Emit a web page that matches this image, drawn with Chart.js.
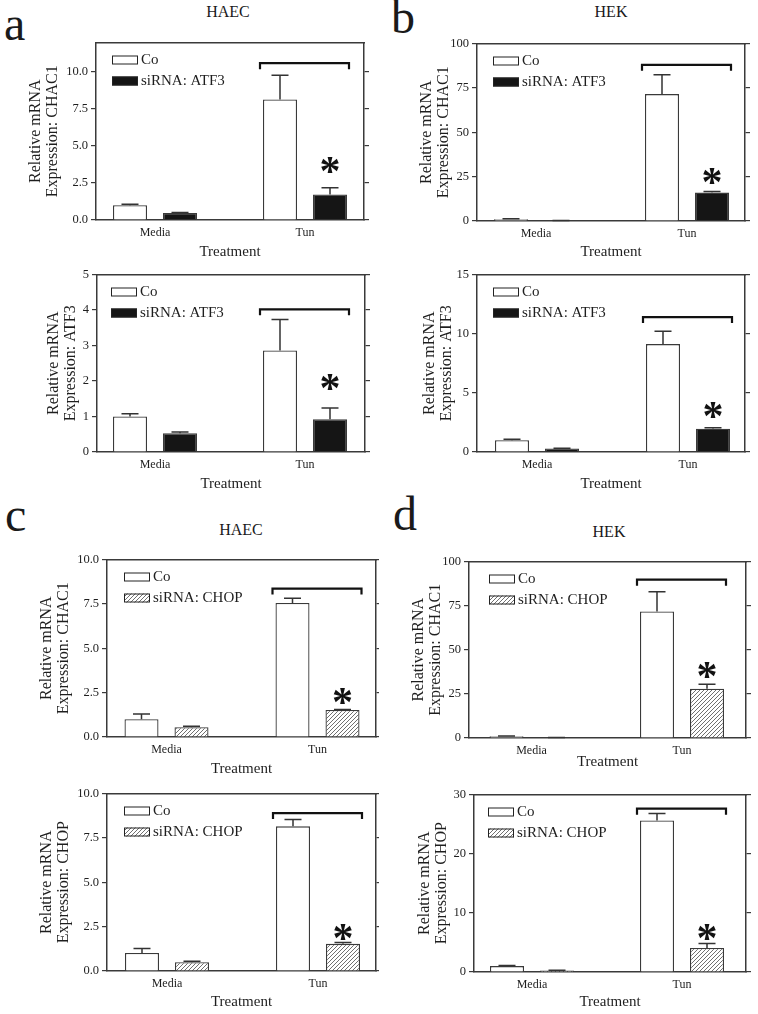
<!DOCTYPE html>
<html><head><meta charset="utf-8">
<script src="https://cdn.jsdelivr.net/npm/chart.js@4.4.1/dist/chart.umd.min.js"></script>
<style>
html,body{margin:0;padding:0;background:#fff;}
body{width:758px;height:1014px;position:relative;overflow:hidden;font-family:"Liberation Serif","Times New Roman",serif;color:#1a1a1a;}
canvas{position:absolute;}
.lbl{position:absolute;line-height:1;white-space:nowrap;}
.letter{font-size:48px;}
.ttl{font-size:16px;transform:translateX(-50%);}
</style></head><body>
<div class="lbl letter" style="left:4px;top:0px">a</div>
<div class="lbl ttl" style="left:228px;top:4px">HAEC</div>
<div class="lbl letter" style="left:391px;top:-7px">b</div>
<div class="lbl ttl" style="left:611px;top:4px">HEK</div>
<div class="lbl letter" style="left:5px;top:491px">c</div>
<div class="lbl ttl" style="left:241px;top:522px">HAEC</div>
<div class="lbl letter" style="left:393px;top:490px">d</div>
<div class="lbl ttl" style="left:609px;top:524px">HEK</div>
<script>
// ---------- data ----------
const categories = ['Media', 'Tun'];
const namesATF3 = ['Co', 'siRNA: ATF3'];
const namesCHOP = ['Co', 'siRNA: CHOP'];
const xTitle = 'Treatment';
const yTitleCHAC1 = ['Relative mRNA', 'Expression: CHAC1'];
const yTitleATF3 = ['Relative mRNA', 'Expression: ATF3'];
const yTitleCHOP = ['Relative mRNA', 'Expression: CHOP'];
const starMark = '*';

// a (top): HAEC, CHAC1
const a1Co = [1.0, 8.15];   const a1CoErr = [0.07, 1.63];
const a1Si = [0.47, 1.72];  const a1SiErr = [0.04, 0.46];
const a1Ticks = [0, 2.5, 5, 7.5, 10]; const a1TickLabels = ['0.0', '2.5', '5.0', '7.5', '10.0'];
const a1Max = 12; const a1Bracket = 10.6; const a1Star = 3.6;

// a (bottom): HAEC, ATF3
const a2Co = [1.0, 2.86];   const a2CoErr = [0.08, 0.87];
const a2Si = [0.53, 0.92];  const a2SiErr = [0.03, 0.32];
const a2Ticks = [0, 1, 2, 3, 4, 5]; const a2TickLabels = ['0', '1', '2', '3', '4', '5'];
const a2Max = 5; const a2Bracket = 4.02; const a2Star = 1.9;

// b (top): HEK, CHAC1
const b1Co = [1.0, 71.5];   const b1CoErr = [0.2, 10.9];
const b1Si = [0.25, 16.0];  const b1SiErr = [0.05, 0.6];
const b1Ticks = [0, 25, 50, 75, 100]; const b1TickLabels = ['0', '25', '50', '75', '100'];
const b1Max = 100; const b1Bracket = 88; const b1Star = 24;

// b (bottom): HEK, ATF3
const b2Co = [1.0, 9.12];   const b2CoErr = [0.08, 1.08];
const b2Si = [0.3, 1.96];   const b2SiErr = [0.02, 0.08];
const b2Ticks = [0, 5, 10, 15]; const b2TickLabels = ['0', '5', '10', '15'];
const b2Max = 15; const b2Bracket = 11.4; const b2Star = 3.4;

// c (top): HAEC, CHAC1, siRNA CHOP
const c1Co = [1.0, 7.55];   const c1CoErr = [0.3, 0.26];
const c1Si = [0.55, 1.52];  const c1SiErr = [0.05, 0.03];
const c1Ticks = [0, 2.5, 5, 7.5, 10]; const c1TickLabels = ['0.0', '2.5', '5.0', '7.5', '10.0'];
const c1Max = 10; const c1Bracket = 8.36; const c1Star = 2.2;

// c (bottom): HAEC, CHOP
const c2Co = [1.01, 8.15];  const c2CoErr = [0.26, 0.39];
const c2Si = [0.49, 1.53];  const c2SiErr = [0.06, 0.07];
const c2Ticks = [0, 2.5, 5, 7.5, 10]; const c2TickLabels = ['0.0', '2.5', '5.0', '7.5', '10.0'];
const c2Max = 10; const c2Bracket = 8.9; const c2Star = 2.1;

// d (top): HEK, CHAC1, siRNA CHOP
const d1Co = [1.0, 71.7];   const d1CoErr = [0.2, 11.1];
const d1Si = [0.3, 27.9];   const d1SiErr = [0.05, 2.5];
const d1Ticks = [0, 25, 50, 75, 100]; const d1TickLabels = ['0', '25', '50', '75', '100'];
const d1Max = 100; const d1Bracket = 89.7; const d1Star = 37.5;

// d (bottom): HEK, CHOP
const d2Co = [1.0, 25.6];   const d2CoErr = [0.1, 1.2];
const d2Si = [0.25, 4.06];  const d2SiErr = [0.03, 0.74];
const d2Ticks = [0, 10, 20, 30]; const d2TickLabels = ['0', '10', '20', '30'];
const d2Max = 30; const d2Bracket = 27.6; const d2Star = 6.4;

// ---------- layout (pixel geometry of each plot box) ----------
const layA1 = {col: 0, L: 96,  R: 364, T: 42,  B: 220, mediaC: 155,   tunC: 305,   titleX: 36,  treatY: 252,  legX: 16};
const layA2 = {col: 0, L: 97,  R: 365, T: 274, B: 452, mediaC: 155,   tunC: 305,   titleX: 54,  treatY: 484,  legX: 14};
const layB1 = {col: 1, L: 477, R: 745, T: 43,  B: 221, mediaC: 536,   tunC: 687,   titleX: 427, treatY: 252,  legX: 16};
const layB2 = {col: 1, L: 477, R: 745, T: 274, B: 452, mediaC: 537,   tunC: 688,   titleX: 430, treatY: 484,  legX: 16};
const layC1 = {col: 0, L: 107, R: 376, T: 559, B: 737, mediaC: 166.5, tunC: 317.5, titleX: 47,  treatY: 769,  legX: 17};
const layC2 = {col: 0, L: 107, R: 376, T: 793, B: 971, mediaC: 167,   tunC: 318,   titleX: 47,  treatY: 1002, legX: 17};
const layD1 = {col: 1, L: 469, R: 746, T: 561, B: 738, mediaC: 531.5, tunC: 682,   titleX: 419, treatY: 762,  legX: 20};
const layD2 = {col: 1, L: 474, R: 746, T: 794, B: 972, mediaC: 532,   tunC: 682,   titleX: 425, treatY: 1002, legX: 14};

const FONT = '"Liberation Serif", "Times New Roman", serif';
const AXIS = '#3a3a3a';
const TEXT = '#1e1e1e';
Chart.defaults.font.family = FONT;
Chart.defaults.color = TEXT;

function hatchPattern() {
  const c = document.createElement('canvas');
  c.width = 4; c.height = 4;
  const g = c.getContext('2d');
  g.fillStyle = '#ffffff'; g.fillRect(0, 0, 4, 4);
  g.strokeStyle = '#707070'; g.lineWidth = 1;
  g.beginPath();
  g.moveTo(0, 4); g.lineTo(4, 0);
  g.moveTo(-1, 1); g.lineTo(1, -1);
  g.moveTo(3, 5); g.lineTo(5, 3);
  g.stroke();
  return g.createPattern(c, 'repeat');
}

const decorPlugin = {
  id: 'decor',
  afterDatasetsDraw(chart, args, opts) {
    const ctx = chart.ctx;
    const ys = chart.scales.y;
    const area = chart.chartArea;
    ctx.save();
    // error bars (upper SEM)
    chart.data.datasets.forEach((ds, di) => {
      const meta = chart.getDatasetMeta(di);
      meta.data.forEach((bar, i) => {
        const e = ds.errors[i];
        if (!e) return;
        const yTop = ys.getPixelForValue(ds.data[i].y + e);
        ctx.strokeStyle = '#333';
        ctx.lineWidth = 1.5;
        ctx.beginPath();
        ctx.moveTo(bar.x, bar.y);
        ctx.lineTo(bar.x, yTop);
        ctx.moveTo(bar.x - 8.5, yTop);
        ctx.lineTo(bar.x + 8.5, yTop);
        ctx.stroke();
      });
    });
    // bracket over Tun group
    const b0 = chart.getDatasetMeta(0).data[1];
    const b1 = chart.getDatasetMeta(1).data[1];
    const x0 = b0.x - b0.width / 2 - 3;
    const x1 = b1.x + b1.width / 2 + 2;
    const yb = ys.getPixelForValue(opts.bracket);
    ctx.strokeStyle = '#111';
    ctx.lineWidth = 2.2;
    ctx.beginPath();
    ctx.moveTo(x0, yb + 6); ctx.lineTo(x0, yb); ctx.lineTo(x1, yb); ctx.lineTo(x1, yb + 6);
    ctx.stroke();
    // asterisk
    ctx.fillStyle = '#111';
    ctx.font = 'bold 42px ' + FONT;
    ctx.textAlign = 'center';
    ctx.textBaseline = 'middle';
    ctx.fillText(starMark, b1.x, ys.getPixelForValue(opts.star) + 7);
    // legend
    chart.data.datasets.forEach((ds, di) => {
      const bx = area.left + opts.legX;
      const by = area.top + 13 + di * 21;
      ctx.fillStyle = ds.backgroundColor;
      ctx.fillRect(bx, by, 26, 9);
      ctx.strokeStyle = '#222';
      ctx.lineWidth = 1;
      ctx.strokeRect(bx + 0.5, by + 0.5, 25, 8);
      ctx.fillStyle = TEXT;
      ctx.font = '15px ' + FONT;
      ctx.textAlign = 'left';
      ctx.textBaseline = 'middle';
      ctx.fillText(ds.label, bx + 29, by + 5);
    });
    ctx.restore();
  }
};

function buildPanel(cfg) {
  const p = cfg.layout;
  const cx = p.col ? 379 : 0, cw = 379;
  const cy = p.T - 10;
  const xTitleLH = 18;
  const ch = Math.round(p.treatY + xTitleLH / 2 - cy);
  const canvas = document.createElement('canvas');
  canvas.width = cw; canvas.height = ch;
  canvas.style.left = cx + 'px'; canvas.style.top = cy + 'px';
  document.body.appendChild(canvas);

  const spacing = p.tunC - p.mediaC;
  const xmin = 1 - (p.mediaC - p.L) / spacing;
  const xmax = 2 + (p.R - p.tunC) / spacing;
  const yW = p.L - cx, y2W = cx + cw - p.R, xH = cy + ch - p.B;
  const yTitleLH = 16.5;
  const yTitlePad = Math.max(0, p.titleX - cx - yTitleLH / 2);
  const catPct = 100 / spacing;

  const toXY = arr => arr.map((v, i) => ({x: i + 1, y: v}));
  const common = {borderColor: AXIS, borderWidth: 1.3, categoryPercentage: catPct, barPercentage: 0.68};

  new Chart(canvas, {
    type: 'bar',
    data: {
      datasets: [
        Object.assign({label: cfg.names[0], data: toXY(cfg.co), errors: cfg.coErr, backgroundColor: '#ffffff'}, common),
        Object.assign({label: cfg.names[1], data: toXY(cfg.si), errors: cfg.siErr, backgroundColor: cfg.siFill}, common)
      ]
    },
    options: {
      responsive: false, animation: false, devicePixelRatio: 1,
      layout: {padding: {left: 0, right: 0, top: p.T - cy, bottom: 0}},
      plugins: {
        legend: {display: false}, tooltip: {enabled: false},
        decor: {bracket: cfg.bracket, star: cfg.star, legX: p.legX}
      },
      scales: {
        x: {
          type: 'linear', position: 'bottom', min: xmin, max: xmax, offset: false,
          afterBuildTicks: s => { s.ticks = categories.map((c, i) => ({value: i + 1})); },
          afterFit: s => { s.height = xH; },
          ticks: {callback: v => categories[v - 1], font: {size: 12}, color: TEXT, padding: 6, autoSkip: false, maxRotation: 0},
          grid: {display: false, drawTicks: false, tickLength: 0, offset: false},
          border: {display: true, color: AXIS, width: 1.5},
          title: {display: true, text: xTitle, font: {size: 15, lineHeight: 1.2}, color: TEXT, padding: {top: 0, bottom: 0}}
        },
        x2: {
          type: 'linear', position: 'top', min: xmin, max: xmax, offset: false,
          afterBuildTicks: s => { s.ticks = []; },
          afterFit: s => { s.height = 0; },
          ticks: {display: false},
          grid: {display: false, drawTicks: false},
          border: {display: true, color: AXIS, width: 1.5}
        },
        y: {
          type: 'linear', position: 'left', min: 0, max: cfg.max,
          afterBuildTicks: s => { s.ticks = cfg.ticks.map(v => ({value: v})); },
          afterFit: s => { s.width = yW; },
          ticks: {callback: v => cfg.tickLabels[cfg.ticks.indexOf(v)], font: {size: 12.5}, color: TEXT, padding: 3, autoSkip: false},
          grid: {display: true, drawOnChartArea: false, drawTicks: true, tickLength: 5, color: AXIS, lineWidth: 1.2},
          border: {display: true, color: AXIS, width: 1.5},
          title: {display: true, text: cfg.yTitle, font: {size: 16, lineHeight: 1.03}, color: TEXT, padding: {top: yTitlePad, bottom: 0}}
        },
        y2: {
          type: 'linear', position: 'right', min: 0, max: cfg.max,
          afterBuildTicks: s => { s.ticks = cfg.ticks.map(v => ({value: v})); },
          afterFit: s => { s.width = y2W; },
          ticks: {display: false},
          grid: {display: true, drawOnChartArea: false, drawTicks: true, tickLength: 5, color: AXIS, lineWidth: 1.2},
          border: {display: true, color: AXIS, width: 1.5}
        }
      }
    },
    plugins: [decorPlugin]
  });
}

const BLACK = '#151515';
const HATCH = hatchPattern();

buildPanel({layout: layA1, names: namesATF3, co: a1Co, coErr: a1CoErr, si: a1Si, siErr: a1SiErr, siFill: BLACK,
  ticks: a1Ticks, tickLabels: a1TickLabels, max: a1Max, bracket: a1Bracket, star: a1Star, yTitle: yTitleCHAC1});
buildPanel({layout: layA2, names: namesATF3, co: a2Co, coErr: a2CoErr, si: a2Si, siErr: a2SiErr, siFill: BLACK,
  ticks: a2Ticks, tickLabels: a2TickLabels, max: a2Max, bracket: a2Bracket, star: a2Star, yTitle: yTitleATF3});
buildPanel({layout: layB1, names: namesATF3, co: b1Co, coErr: b1CoErr, si: b1Si, siErr: b1SiErr, siFill: BLACK,
  ticks: b1Ticks, tickLabels: b1TickLabels, max: b1Max, bracket: b1Bracket, star: b1Star, yTitle: yTitleCHAC1});
buildPanel({layout: layB2, names: namesATF3, co: b2Co, coErr: b2CoErr, si: b2Si, siErr: b2SiErr, siFill: BLACK,
  ticks: b2Ticks, tickLabels: b2TickLabels, max: b2Max, bracket: b2Bracket, star: b2Star, yTitle: yTitleATF3});
buildPanel({layout: layC1, names: namesCHOP, co: c1Co, coErr: c1CoErr, si: c1Si, siErr: c1SiErr, siFill: HATCH,
  ticks: c1Ticks, tickLabels: c1TickLabels, max: c1Max, bracket: c1Bracket, star: c1Star, yTitle: yTitleCHAC1});
buildPanel({layout: layC2, names: namesCHOP, co: c2Co, coErr: c2CoErr, si: c2Si, siErr: c2SiErr, siFill: HATCH,
  ticks: c2Ticks, tickLabels: c2TickLabels, max: c2Max, bracket: c2Bracket, star: c2Star, yTitle: yTitleCHOP});
buildPanel({layout: layD1, names: namesCHOP, co: d1Co, coErr: d1CoErr, si: d1Si, siErr: d1SiErr, siFill: HATCH,
  ticks: d1Ticks, tickLabels: d1TickLabels, max: d1Max, bracket: d1Bracket, star: d1Star, yTitle: yTitleCHAC1});
buildPanel({layout: layD2, names: namesCHOP, co: d2Co, coErr: d2CoErr, si: d2Si, siErr: d2SiErr, siFill: HATCH,
  ticks: d2Ticks, tickLabels: d2TickLabels, max: d2Max, bracket: d2Bracket, star: d2Star, yTitle: yTitleCHOP});
</script>
</body></html>
